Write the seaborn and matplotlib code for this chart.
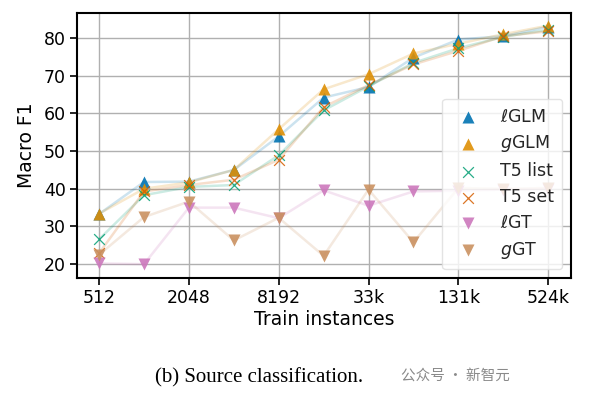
import matplotlib
matplotlib.use('Agg')
import matplotlib.pyplot as plt
import pandas as pd
import seaborn as sns

# training set sizes (log2 spaced)
train_sizes = [512, 1024, 2048, 4096, 8192, 16384, 32768, 65536, 131072, 262144, 524288]

lglm = [33.3, 41.8, 41.9, 45.0, 53.9, 64.2, 67.0, 74.8, 79.6, 80.5, 83.0]
gglm = [33.4, 40.0, 41.7, 45.0, 55.8, 66.4, 70.4, 75.9, 78.5, 81.0, 83.3]
t5_list = [26.6, 38.3, 40.5, 41.0, 48.9, 60.8, 67.2, 73.4, 77.3, 80.3, 82.2]
t5_set = [22.9, 39.3, 41.0, 42.4, 47.7, 61.7, 67.5, 73.0, 76.6, 80.5, 81.8]
lgt = [20.2, 20.0, 35.0, 35.0, 32.2, 39.6, 35.5, 39.3, 39.5, 39.8, 40.0]
ggt = [22.5, 32.5, 36.6, 26.3, 32.3, 22.2, 39.8, 25.8, 40.2, 40.0, 40.2]

series_names = [r'$\ell$GLM', r'$g$GLM', 'T5 list', 'T5 set', r'$\ell$GT', r'$g$GT']
series_values = [lglm, gglm, t5_list, t5_set, lgt, ggt]
markers = ['^', '^', 'x', 'x', 'v', 'v']

x_ticks = [512, 2048, 8192, 32768, 131072, 524288]
x_tick_labels = ['512', '2048', '8192', '33k', '131k', '524k']
y_ticks = [20, 30, 40, 50, 60, 70, 80]

sns.set_theme(style='whitegrid')
plt.rcParams['font.family'] = ['DejaVu Sans']
colors = sns.color_palette('colorblind', 6)

fig = plt.figure(figsize=(5.93, 3.99), dpi=100)
ax = fig.add_axes([0.130, 0.303, 0.833, 0.664])

for name, vals, mk, c in zip(series_names, series_values, markers, colors):
    d = pd.DataFrame({'size': train_sizes, 'f1': vals})
    sns.lineplot(data=d, x='size', y='f1', color=c, alpha=0.2,
                 linewidth=1.8, ax=ax)
    if mk == 'x':
        sns.scatterplot(data=d, x='size', y='f1', color=c, marker=mk, s=60,
                        linewidth=0.9, alpha=0.85, label=name, ax=ax, zorder=3)
    else:
        sns.scatterplot(data=d, x='size', y='f1', color=c, marker=mk, s=75,
                        linewidth=0, alpha=0.9, label=name, ax=ax, zorder=3)

ax.set_xscale('log', base=2)
ax.set_xlim(512 / 2 ** 0.49, 524288 * 2 ** 0.51)
ax.set_ylim(16.3, 86.6)
ax.set_xticks(x_ticks)
ax.set_xticklabels(x_tick_labels)
ax.minorticks_off()
ax.set_yticks(y_ticks)

ax.grid(True, color='#b0b0b0', linewidth=1.0)
for sp in ax.spines.values():
    sp.set_color('black')
    sp.set_linewidth(1.5)
ax.tick_params(axis='both', which='major', length=5, width=1.2, color='black',
               labelsize=12.5, labelcolor='black', bottom=True, left=True, pad=3)

ax.set_xlabel('Train instances', fontsize=13.5, color='black', labelpad=2)
ax.set_ylabel('Macro F1', fontsize=13.5, color='black', labelpad=6)

leg = ax.legend(loc='lower right', fontsize=12.5,
                framealpha=0.8, handletextpad=0.8, borderpad=0.5,
                labelspacing=0.45)
leg.get_frame().set_edgecolor('#dddddd')

fig.text(0.437, 0.052, '(b) Source classification.', ha='center', va='center',
         fontsize=15, family='Liberation Serif', color='black')
fig.text(0.768, 0.058, '公众号 · 新智元', ha='center', va='center',
         fontsize=10.5, family=['Noto Sans CJK SC', 'DejaVu Sans'], color='#8a8a8a')

fig.savefig('out.png', dpi=100)
